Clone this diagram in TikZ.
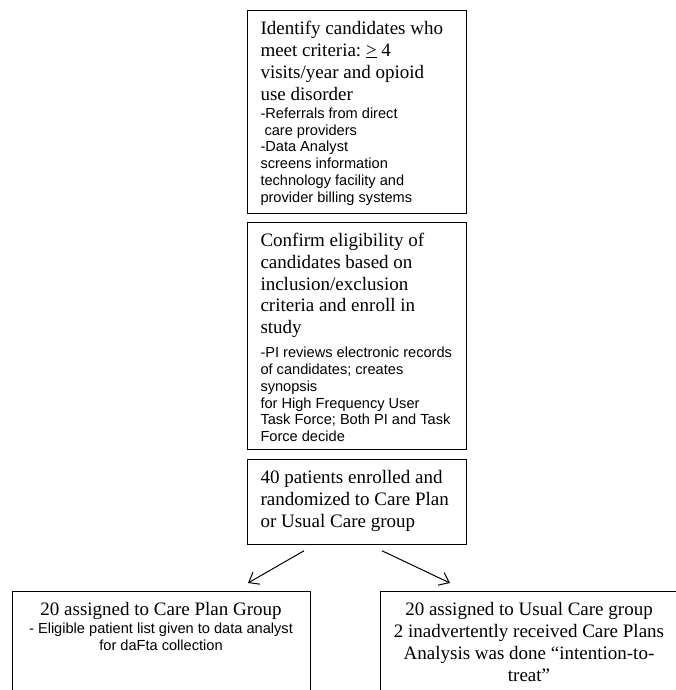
\documentclass[tikz,border=0pt]{standalone}
\usepackage{fontspec}
\setmainfont{Liberation Serif}
\setsansfont{Liberation Sans}
\usetikzlibrary{positioning}
\usetikzlibrary{arrows.meta}
\newcommand{\fixspace}{\spaceskip=\fontdimen2\font\xspaceskip=\fontdimen2\font\relax}
\newcommand{\bigtxt}{\fontsize{19}{21.9}\selectfont\fixspace}
\newcommand{\smalltxt}{\sffamily\fontsize{14.6}{16.8}\selectfont\fixspace}
\newcommand{\topstrut}{\fixspace\rule{0pt}{16pt}}
\setlength{\parindent}{0pt}

\begin{document}
\begin{tikzpicture}[x=1pt, y=-1pt, >={Straight Barb[length=9pt,width=14pt]},
  stage/.style={rectangle, draw, line width=0.8pt, text width=193pt, inner xsep=13pt, inner ysep=8pt, align=left, font=\bigtxt},
  group/.style={rectangle, draw, line width=0.8pt, text width=282pt, inner xsep=8pt, inner ysep=8pt, align=center, text depth=80pt, font=\bigtxt}]
\useasboundingbox (0,0) rectangle (675,690);
\node[stage,anchor=north] (identify) at (357,10) {\topstrut Identify candidates who\\meet criteria: \underline{>} 4\\visits/year and opioid\\use disorder\par\vspace{1.5pt}\smalltxt -Referrals from direct\\\hspace*{4pt}care providers\\-Data Analyst\\screens information\\technology facility and\\provider billing systems\par};
\node[stage,below=8pt of identify] (confirm) {\topstrut Confirm eligibility of\\candidates based on\\inclusion/exclusion\\criteria and enroll in\\study\par\vspace{7pt}\smalltxt -PI reviews electronic records\\of candidates; creates\\synopsis\\for High Frequency User\\Task Force; Both PI and Task\\Force decide\par};
\node[stage,below=9pt of confirm] (enrolled) {\topstrut 40 patients enrolled and\\randomized to Care Plan\\or Usual Care group\rule[-9pt]{0pt}{0pt}};
\node[group,anchor=north] (careplan) at (161,591) {\topstrut 20 assigned to Care Plan Group\par\vspace{1pt}\smalltxt - Eligible patient list given to data analyst\\for daFta collection\par};
\node[group,anchor=north] (usualcare) at (529,591) {\topstrut 20 assigned to Usual Care group\\2 inadvertently received Care Plans\\Analysis was done “intention-to-\\treat”};
\draw[->, line width=1pt] ([xshift=-53pt,yshift=-6pt]enrolled.south) -- ([xshift=87pt,yshift=8pt]careplan.north);
\draw[->, line width=1pt] ([xshift=25pt,yshift=-6pt]enrolled.south) -- ([xshift=-79pt,yshift=8pt]usualcare.north);
\end{tikzpicture}
\end{document}
